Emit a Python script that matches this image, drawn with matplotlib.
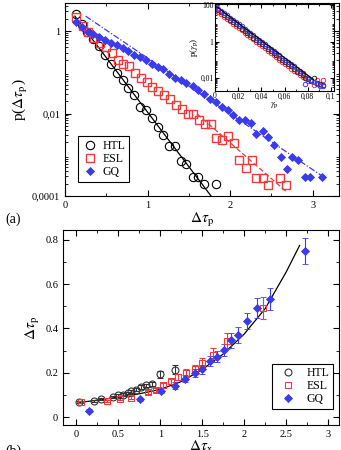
import matplotlib.pyplot as plt
import numpy as np
from matplotlib.lines import Line2D
from matplotlib.ticker import FixedLocator, MultipleLocator, LogLocator, NullFormatter

plt.rcParams['font.family'] = ['Liberation Serif', 'DejaVu Serif']
plt.rcParams['mathtext.fontset'] = 'stix'

# ---- panel (a): distributions p(dtau_p) ----
htl_x = [0.133, 0.20, 0.27, 0.343, 0.416, 0.484, 0.557, 0.626, 0.698, 0.767, 0.84, 0.908,
         0.981, 1.05, 1.122, 1.19, 1.26, 1.33, 1.405, 1.47, 1.546, 1.615, 1.687, 1.83]
htl_p = [2.57, 1.48, 0.95, 0.66, 0.44, 0.26, 0.16, 0.098, 0.065, 0.041, 0.028, 0.0145,
         0.012, 0.0076, 0.0048, 0.0030, 0.0016, 0.0016, 0.00071, 0.00059, 0.00029, 0.00029,
         0.0002, 0.0002]

esl_x = [0.133, 0.214, 0.283, 0.355, 0.424, 0.497, 0.565, 0.638, 0.707, 0.78, 0.848, 0.92,
         0.99, 1.06, 1.13, 1.203, 1.27, 1.344, 1.413, 1.486, 1.554, 1.627, 1.696, 1.768,
         1.83, 1.898, 1.978, 2.047, 2.11, 2.19, 2.26, 2.32, 2.394, 2.463, 2.60, 2.677]
esl_p = [2.24, 1.32, 0.95, 0.69, 0.52, 0.42, 0.30, 0.20, 0.16, 0.14, 0.098, 0.071,
         0.059, 0.043, 0.035, 0.028, 0.022, 0.016, 0.013, 0.010, 0.0095, 0.0069, 0.0055, 0.0055,
         0.0026, 0.0023, 0.0028, 0.0019, 0.00074, 0.00049, 0.00074, 0.00028, 0.00028, 0.00019,
         0.00028, 0.00019]

gq_x = [0.133, 0.20, 0.275, 0.343, 0.416, 0.484, 0.557, 0.626, 0.698, 0.767, 0.84, 0.908,
        0.981, 1.05, 1.122, 1.19, 1.26, 1.33, 1.405, 1.47, 1.546, 1.615, 1.687, 1.756,
        1.83, 1.898, 1.97, 2.04, 2.11, 2.18, 2.25, 2.32, 2.40, 2.463, 2.535, 2.616, 2.685,
        2.745, 2.826, 2.907, 2.967, 3.109]
gq_p = [1.70, 1.27, 0.95, 0.87, 0.72, 0.60, 0.52, 0.46, 0.38, 0.32, 0.27, 0.23,
        0.20, 0.16, 0.135, 0.117, 0.091, 0.074, 0.065, 0.054, 0.046, 0.037, 0.029, 0.022,
        0.019, 0.0145, 0.012, 0.0091, 0.0071, 0.0071, 0.0059, 0.0032, 0.0038, 0.0027, 0.0017,
        0.00089, 0.00046, 0.00089, 0.00074, 0.00029, 0.00029, 0.00029]

# exponential fits (straight lines on log axis), endpoints
htl_fit_x = [0.12, 1.77]
htl_fit_p = [2.3, 0.0001]
esl_fit_x = [1.6, 2.685]
esl_fit_p = [0.0098, 0.000126]
gq_fit_x = [0.25, 3.1]
gq_fit_p = [2.3, 0.00032]

# ---- inset: p(gamma_p) ----
inset_x = [0.001, 0.003, 0.0055, 0.008, 0.0105, 0.013, 0.0155, 0.018, 0.0205, 0.023,
           0.0255, 0.028, 0.0305, 0.033, 0.0355, 0.038, 0.0405, 0.043, 0.0455, 0.048,
           0.0505, 0.053, 0.0555, 0.058, 0.0605, 0.063, 0.0655, 0.068, 0.0705, 0.073,
           0.0755, 0.078, 0.0805, 0.083, 0.0855, 0.088, 0.0905, 0.093]
inset_gq = [95, 66, 50, 37, 28, 21, 16, 12, 9.0, 6.9, 5.1, 3.9, 3.0, 2.2, 1.7, 1.25,
            0.95, 0.72, 0.54, 0.41, 0.31, 0.23, 0.18, 0.13, 0.10, 0.075, 0.057, 0.043,
            0.032, 0.024, 0.018, 0.0045, 0.010, 0.0075, 0.0058, 0.0045, 0.0035, 0.0035]
inset_esl = [80, 45, 33, 24, 18, 13, 10, 7.4, 5.6, 4.2, 3.1, 2.4, 1.8, 1.35, 1.0, 0.75,
             0.57, 0.43, 0.32, 0.24, 0.18, 0.14, 0.10, 0.078, 0.058, 0.044, 0.033, 0.025,
             0.024, 0.014, 0.011, 0.012, 0.0065, 0.008, 0.0042, 0.008, 0.0042, 0.008]
inset_htl = [88, 55, 41, 30, 22, 16.5, 12.5, 9.4, 7.0, 5.3, 4.0, 3.0, 2.3, 1.7, 1.3, 0.97,
             0.73, 0.55, 0.41, 0.31, 0.23, 0.18, 0.13, 0.10, 0.076, 0.057, 0.043, 0.033,
             0.020, 0.019, 0.014, 0.010, 0.0085, 0.0065, 0.0095, 0.0055, 0.0045, 0.0042]
inset_fit_x = [0.002, 0.085]
inset_fit_p = [80, 0.008]

# ---- panel (b): dtau_p vs dtau_x ----
htl_bx = [0.032, 0.21, 0.298, 0.43, 0.497, 0.556, 0.616, 0.656, 0.715, 0.775, 0.834, 0.906,
          1.001, 1.172]
htl_by = [0.068, 0.072, 0.083, 0.091, 0.098, 0.101, 0.109, 0.116, 0.124, 0.136, 0.143, 0.151,
          0.193, 0.214]
htl_be = [0.004, 0.005, 0.005, 0.005, 0.006, 0.006, 0.006, 0.007, 0.007, 0.008, 0.008, 0.009,
          0.016, 0.020]

esl_bx = [0.05, 0.36, 0.52, 0.65, 0.85, 0.95, 1.03, 1.13, 1.21, 1.31, 1.41, 1.50, 1.63,
          1.79, 2.22]
esl_by = [0.068, 0.072, 0.083, 0.088, 0.113, 0.122, 0.143, 0.161, 0.181, 0.199, 0.216,
          0.245, 0.280, 0.343, 0.494]
esl_be = [0.004, 0.005, 0.005, 0.006, 0.007, 0.008, 0.010, 0.012, 0.014, 0.016, 0.018,
          0.020, 0.030, 0.035, 0.049]

gq_bx = [0.15, 0.76, 1.01, 1.17, 1.30, 1.41, 1.50, 1.59, 1.68, 1.76, 1.84, 1.93, 2.03,
         2.15, 2.31, 2.72]
gq_by = [0.029, 0.080, 0.119, 0.142, 0.174, 0.200, 0.216, 0.252, 0.272, 0.302, 0.346,
         0.370, 0.435, 0.491, 0.533, 0.750]
gq_be = [0.005, 0.008, 0.012, 0.015, 0.017, 0.018, 0.020, 0.022, 0.025, 0.028, 0.033,
         0.036, 0.037, 0.045, 0.048, 0.058]

curve_x = [0.02, 0.25, 0.5, 0.75, 1.0, 1.25, 1.5, 1.75, 2.0, 2.25, 2.5, 2.66]
curve_y = [0.065, 0.076, 0.090, 0.105, 0.125, 0.160, 0.215, 0.285, 0.375, 0.490, 0.655, 0.775]

RED = '#ee3b3b'
BLUE = '#3b3bee'

fig = plt.figure(figsize=(3.41, 4.5), dpi=100)

# panel (a)
ax1 = fig.add_axes([0.1906, 0.5644, 0.8035, 0.4289])
ax1.set_yscale('log')
ax1.plot(htl_fit_x, htl_fit_p, color='black', lw=0.9)
ax1.plot(esl_fit_x, esl_fit_p, color=RED, lw=0.9, ls=(0, (4, 2)))
ax1.plot(gq_fit_x, gq_fit_p, color=BLUE, lw=0.9, ls=(0, (5, 1.5, 1, 1.5)))
ax1.plot(htl_x, htl_p, 'o', mfc='none', mec='black', ms=6, mew=0.8, label='HTL')
ax1.plot(esl_x, esl_p, 's', mfc='none', mec=RED, ms=6, mew=1.0, label='ESL')
ax1.plot(gq_x, gq_p, 'D', mfc=BLUE, mec=BLUE, ms=4.5, mew=0.6, label='GQ')
ax1.set_xlim(0, 3.32)
ax1.set_ylim(1e-4, 10 ** 0.68)
ax1.xaxis.set_major_locator(MultipleLocator(1))
ax1.xaxis.set_minor_locator(MultipleLocator(0.5))
ax1.yaxis.set_major_locator(FixedLocator([1e-4, 1e-2, 1]))
ax1.set_yticklabels(['0,0001', '0,01', '1'])
ax1.yaxis.set_minor_locator(LogLocator(base=10, subs=np.arange(2, 10)))
ax1.yaxis.set_minor_formatter(NullFormatter())
ax1.tick_params(which='both', direction='in', top=True, right=True, labelsize=7.5)
ax1.tick_params(which='major', length=4)
ax1.tick_params(which='minor', length=2)
ax1.set_xlabel(r'$\Delta\tau_{\rm p}$', fontsize=11, labelpad=1)
ax1.set_ylabel(r'p($\Delta\tau_{\rm p}$)', fontsize=11, labelpad=1)
leg1 = ax1.legend(loc='lower left', bbox_to_anchor=(0.047, 0.073), borderaxespad=0,
                  fontsize=8.5, fancybox=False, edgecolor='black', framealpha=1,
                  handletextpad=0.3, borderpad=0.3, labelspacing=0.1, handlelength=1.5)
leg1.get_frame().set_linewidth(0.8)

# inset
axi = fig.add_axes([0.6305, 0.7978, 0.349, 0.1933])
axi.set_yscale('log')
axi.plot(inset_x, inset_esl, 'o', mfc='none', mec=RED, ms=3.2, mew=0.7)
axi.plot(inset_x, inset_htl, 'o', mfc='none', mec='#402020', ms=3.2, mew=0.7)
axi.plot(inset_x, inset_gq, 'o', mfc='none', mec=BLUE, ms=3.2, mew=0.7)
axi.plot(inset_fit_x, inset_fit_p, color='black', lw=0.8)
axi.set_xlim(0, 0.1026)
axi.set_ylim(0.0019, 120)
axi.xaxis.set_major_locator(FixedLocator([0, 0.02, 0.04, 0.06, 0.08, 0.1]))
axi.set_xticklabels(['0', '0,02', '0,04', '0,06', '0,08', '0,1'])
axi.xaxis.set_minor_locator(MultipleLocator(0.01))
axi.yaxis.set_major_locator(FixedLocator([0.01, 1, 100]))
axi.set_yticklabels(['0,01', '1', '100'])
axi.yaxis.set_minor_locator(LogLocator(base=10, subs=np.arange(2, 10)))
axi.yaxis.set_minor_formatter(NullFormatter())
axi.tick_params(which='both', direction='in', top=True, right=True, labelsize=5.5, pad=1)
axi.tick_params(which='major', length=3)
axi.tick_params(which='minor', length=1.5)
axi.set_xlabel(r'$\gamma_{\rm p}$', fontsize=6.5, labelpad=0)
axi.set_ylabel(r'p($\gamma_{\rm p}$)', fontsize=6.5, labelpad=0)

fig.text(0.015, 0.505, '(a)', fontsize=10)

# panel (b)
ax2 = fig.add_axes([0.1848, 0.0556, 0.8094, 0.4333])
ax2.plot(curve_x, curve_y, color='black', lw=0.9)
ax2.errorbar(htl_bx, htl_by, yerr=htl_be, fmt='o', mfc='none', mec='#333333', ecolor='#333333',
             ms=5, mew=0.8, elinewidth=0.8, capsize=2)
ax2.errorbar(esl_bx, esl_by, yerr=esl_be, fmt='s', mfc='none', mec=RED, ecolor=RED,
             ms=5, mew=0.8, elinewidth=0.8, capsize=2)
ax2.errorbar(gq_bx, gq_by, yerr=gq_be, fmt='D', mfc=BLUE, mec=BLUE, ecolor=BLUE,
             ms=4, mew=0.6, elinewidth=0.8, capsize=2)
ax2.set_xlim(-0.16, 3.13)
ax2.set_ylim(-0.036, 0.845)
ax2.xaxis.set_major_locator(MultipleLocator(0.5))
ax2.xaxis.set_minor_locator(MultipleLocator(0.25))
ax2.yaxis.set_major_locator(MultipleLocator(0.2))
ax2.yaxis.set_minor_locator(MultipleLocator(0.1))
ax2.xaxis.set_major_formatter(plt.FuncFormatter(lambda v, p: ('%g' % round(v, 2))))
ax2.yaxis.set_major_formatter(plt.FuncFormatter(lambda v, p: ('%g' % round(v, 2))))
ax2.tick_params(which='both', direction='in', top=True, right=True, labelsize=7.5)
ax2.tick_params(which='major', length=4)
ax2.tick_params(which='minor', length=2)
ax2.set_xlabel(r'$\Delta\tau_{\rm x}$', fontsize=11, labelpad=0)
ax2.set_ylabel(r'$\Delta\tau_{\rm p}$', fontsize=11, labelpad=2)
handles = [
    Line2D([], [], ls='none', marker='o', mfc='none', mec='#333333', ms=5, mew=0.8),
    Line2D([], [], ls='none', marker='s', mfc='none', mec=RED, ms=5, mew=0.8),
    Line2D([], [], ls='none', marker='D', mfc=BLUE, mec=BLUE, ms=4, mew=0.6),
]
leg2 = ax2.legend(handles, ['HTL', 'ESL', 'GQ'], loc='lower right',
                  bbox_to_anchor=(0.978, 0.082), borderaxespad=0,
                  fontsize=8.5, fancybox=False, edgecolor='black', framealpha=1,
                  handletextpad=0.6, borderpad=0.3, labelspacing=0.1, handlelength=2.0)
leg2.get_frame().set_linewidth(0.8)

fig.text(0.015, -0.01, '(b)', fontsize=10)

fig.savefig('out.png', dpi=100)
